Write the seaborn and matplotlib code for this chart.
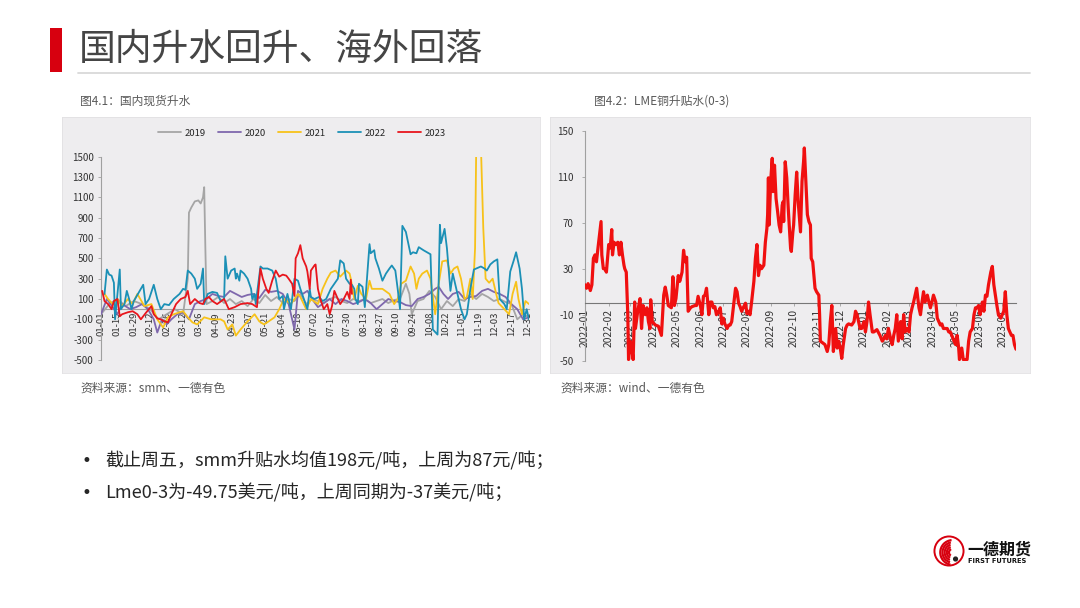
import numpy as np
import pandas as pd
import matplotlib
matplotlib.use("Agg")
import matplotlib.pyplot as plt
import matplotlib.dates as mdates
from matplotlib.patches import Rectangle, Circle, Arc
import seaborn as sns

sns.set_theme(style="white")
plt.rcParams["font.family"] = ["Noto Sans CJK SC", "DejaVu Sans"]
plt.rcParams["axes.unicode_minus"] = False

# ---------------- data ----------------
title = "国内升水回升、海外回落"
cap_left = "图4.1：国内现货升水"
cap_right = "图4.2：LME铜升贴水(0-3)"
src_left = "资料来源：smm、一德有色"
src_right = "资料来源：wind、一德有色"
bullets = ["截止周五，smm升贴水均值198元/吨，上周为87元/吨；",
           "Lme0-3为-49.75美元/吨，上周同期为-37美元/吨；"]

years = ["2019", "2020", "2021", "2022", "2023"]
year_colors = ["#a5a5a5", "#7f68ad", "#f7c21a", "#1b90b6", "#e8161d"]

# (day of year, premium 元/吨)
s2019 = [(0,-50),(7,50),(14,100),(21,30),(28,80),(35,50),(42,0),(49,-100),(56,-50),(63,0),(70,-50),
         (74,300),(75,950),(77,1000),(80,1060),(83,1070),(85,1040),(87,1100),(88,1200),(89,600),(90,50),
         (95,80),(100,120),(105,60),(110,100),(115,50),(120,80),(125,30),(130,100),(135,60),(140,140),
         (145,80),(150,120),(155,60),(160,100),(165,80),(170,150),(175,50),(180,100),(185,80),(190,60),
         (195,100),(200,120),(205,80),(210,60),(215,100),(220,80),(225,100),(230,60),(235,80),(240,100),
         (245,60),(250,90),(255,100),(260,250),(263,150),(265,-50),(270,80),(275,100),(280,180),(285,120),
         (290,0),(295,80),(300,30),(305,100),(310,80),(315,150),(320,100),(325,150),(330,120),(335,80),
         (340,100),(345,70),(350,50),(355,-100),(360,-50),(365,-80)]
s2020 = [(0,-50),(5,100),(10,20),(14,-50),(18,50),(25,0),(30,20),(35,50),(40,0),(45,-100),(48,-230),
         (52,-100),(56,-150),(60,-100),(65,-50),(70,-30),(75,-100),(80,50),(85,80),(90,100),(95,150),
         (100,130),(105,120),(110,180),(115,150),(120,120),(125,140),(130,150),(135,110),(140,190),
         (145,170),(150,180),(155,150),(160,50),(163,-100),(165,-200),(168,180),(172,150),(176,180),
         (180,100),(185,20),(190,60),(195,100),(200,50),(205,100),(210,80),(215,50),(220,70),(225,100),
         (230,60),(235,0),(240,50),(245,100),(250,80),(255,70),(260,40),(265,30),(270,100),(275,120),
         (280,150),(285,200),(288,220),(292,150),(296,100),(300,150),(305,170),(310,100),(315,120),
         (320,130),(325,180),(330,200),(335,170),(340,150),(345,120),(350,50),(355,0),(360,-100),(365,-80)]
s2021 = [(3,150),(6,100),(10,50),(14,100),(18,30),(23,100),(27,50),(31,150),(37,30),(43,50),(48,-100),
         (53,-180),(57,-80),(62,-50),(70,-20),(74,-80),(78,-130),(82,-150),(88,-80),(94,-100),(99,-100),
         (102,-100),(105,-120),(108,-200),(112,-150),(115,-260),(119,-200),(125,-120),(131,-50),(135,-120),
         (139,-150),(143,-120),(148,-80),(152,0),(156,100),(162,50),(168,150),(170,120),(175,0),(179,100),
         (185,50),(189,200),(193,300),(196,360),(200,380),(204,320),(209,380),(212,350),(213,300),(216,100),
         (219,230),(222,150),(226,100),(229,280),(231,200),(236,200),(240,200),(246,150),(250,50),(253,100),
         (256,250),(260,280),(264,420),(267,350),(269,200),(271,300),(274,350),(278,380),(281,300),(285,-50),
         (288,250),(291,470),(295,480),(298,350),(301,400),(304,420),(307,300),(310,100),(312,120),(315,300),
         (317,100),(319,600),(320,1600),(324,1600),(326,800),(328,300),(331,260),(334,300),(337,150),
         (339,60),(344,0),(348,-50),(351,150),(354,270),(356,100),(359,-50),(362,80),(365,50)]
s2022 = [(3,150),(5,390),(7,340),(9,330),(11,260),(12,-100),(16,390),(17,0),(20,50),(22,180),(24,100),
         (26,0),(28,80),(33,180),(36,240),(38,50),(41,100),(45,240),(48,100),(51,0),(54,50),(58,40),
         (62,100),(67,150),(70,200),(72,190),(74,380),(77,350),(80,300),(82,200),(85,250),(87,400),(88,50),
         (91,150),(95,170),(99,160),(102,80),(105,100),(106,520),(108,300),(111,380),(114,400),(115,300),
         (116,350),(118,280),(119,380),(122,350),(125,300),(128,200),(129,100),(131,150),(132,50),(133,150),
         (136,420),(138,400),(142,400),(146,380),(149,300),(152,100),(155,130),(156,0),(159,150),(162,0),
         (165,300),(168,280),(170,200),(173,100),(176,0),(178,200),(179,120),(182,100),(186,120),(189,80),
         (192,100),(196,200),(199,250),(202,300),(204,480),(207,450),(209,300),(212,250),(214,240),(216,200),
         (217,100),(219,50),(220,250),(223,220),(225,20),(229,640),(230,550),(233,580),(234,500),(237,400),
         (240,280),(243,350),(246,400),(248,430),(251,380),(253,200),(255,0),(257,820),(260,760),(264,540),
         (266,560),(269,550),(271,610),(275,580),(278,560),(281,540),(283,-200),(287,-250),(289,830),
         (290,650),(293,790),(295,600),(298,180),(300,350),(301,300),(304,150),(307,0),(310,-100),(312,-50),
         (315,200),(318,390),(324,420),(327,400),(329,380),(332,440),(335,470),(338,490),(340,100),(344,50),
         (346,0),(349,370),(352,480),(354,560),(357,400),(359,200),(361,-100),(363,0),(365,-100)]
s2023 = [(1,180),(3,80),(6,50),(9,0),(11,80),(14,100),(16,-70),(18,-50),(23,-30),(27,-20),(31,-50),
         (34,-100),(38,-40),(43,30),(45,-50),(48,-90),(51,-100),(54,-120),(57,-130),(60,-50),(64,50),
         (68,100),(72,120),(74,180),(76,50),(80,100),(84,60),(87,50),(89,100),(92,120),(95,80),(99,50),
         (105,100),(109,0),(114,20),(119,50),(125,60),(129,50),(133,20),(136,400),(138,300),(141,200),
         (143,160),(146,280),(149,380),(152,320),(155,340),(158,330),(160,300),(163,250),(165,130),
         (166,500),(168,550),(170,630),(172,500),(175,420),(176,370),(178,200),(179,380),(182,430),
         (183,440),(185,200),(187,100),(190,0),(193,50),(195,-50),(197,30),(199,180),(202,100),(204,50),
         (207,100),(210,170),(212,100),(213,290),(214,150)]
year_series = [s2019, s2020, s2021, s2022, s2023]

left_ticks = [0, 14, 28, 42, 56, 70, 84, 98, 112, 126, 140, 154, 168, 182, 196, 210, 224, 238,
              252, 266, 280, 294, 308, 322, 336, 350, 364]
left_tick_labels = ["01-01", "01-15", "01-29", "02-12", "02-26", "03-12", "03-26", "04-09", "04-23",
                    "05-07", "05-21", "06-04", "06-18", "07-02", "07-16", "07-30", "08-13", "08-27",
                    "09-10", "09-24", "10-08", "10-22", "11-05", "11-19", "12-03", "12-17", "12-31"]

# LME 0-3 spread: (days since 2022-01-01, USD/t)
lme_start = "2022-01-01"
lme = [(0,16),(2,13),(4,17),(7,11),(9,16),(11,39),(13,42),(15,36),(17,48),(21,71),(22,42),(24,30),
       (26,30),(28,27),(31,51),(33,48),(35,64),(36,42),(38,53),(40,51),(43,53),(45,42),(47,53),(49,42),
       (51,33),(52,30),(54,27),(56,-10),(57,-49),(59,-33),(61,-39),(63,-49),(65,1),(66,-22),(69,-7),
       (72,4),(74,-22),(76,-2),(79,-10),(81,-4),(83,-16),(85,-22),(86,3),(88,-16),(92,-19),(96,-20),
       (100,-28),(103,7),(105,14),(107,7),(109,-2),(113,-4),(115,23),(117,-2),(119,4),(122,24),(124,19),
       (127,27),(129,46),(131,36),(133,40),(135,-7),(138,-4),(140,-3),(144,-2),(146,-2),(148,6),(151,-2),
       (153,-10),(155,6),(157,7),(159,13),(162,-10),(164,1),(166,1),(168,-4),(170,-3),(172,-10),(175,-7),
       (177,-4),(179,-18),(181,-13),(183,-18),(186,-22),(188,-19),(190,-19),(192,-16),(197,13),(199,10),
       (201,0),(203,-3),(205,-7),(207,-4),(210,0),(212,-9),(214,-7),(216,-10),(218,1),(221,19),(223,39),
       (225,51),(227,24),(229,33),(231,30),(234,33),(236,53),(238,65),(239,77),(240,109),(241,68),
       (243,106),(245,126),(246,97),(248,120),(250,91),(252,80),(254,68),(256,62),(258,85),(259,88),
       (260,71),(262,123),(264,109),(266,82),(269,48),(270,45),(272,62),(273,68),(275,94),(277,114),
       (279,88),(282,62),(284,106),(286,123),(287,135),(289,106),(291,77),(293,71),(295,68),(296,39),
       (298,36),(301,13),(303,10),(306,7),(307,-10),(308,-33),(312,-35),(314,-36),(317,-42),(319,-36),
       (321,-16),(323,-2),(325,-42),(328,-22),(330,-39),(332,-33),(334,-39),(336,-48),(338,-36),(341,-22),
       (343,-19),(345,-18),(349,-19),(352,-16),(354,-7),(356,-10),(358,-16),(360,-22),(362,-22),(365,-16),
       (367,-25),(369,-16),(371,1),(373,-10),(376,-25),(378,-25),(382,-23),(386,-28),(389,-33),(391,-31),
       (393,-28),(395,-31),(397,-22),(400,-31),(402,-36),(404,-28),(406,-22),(408,-10),(410,-33),
       (413,-16),(415,-31),(417,-10),(419,-25),(421,-22),(424,-25),(426,-10),(428,-4),(430,1),(432,7),
       (434,13),(437,-4),(439,-10),(441,1),(443,10),(445,1),(448,7),(450,1),(452,-4),(454,1),(456,7),
       (459,1),(461,-13),(463,-16),(465,-19),(467,-18),(469,-22),(472,-22),(474,-22),(476,-25),(478,-25),
       (480,-28),(483,-33),(485,-36),(487,-28),(489,-39),(490,-49),(493,-39),(495,-49),(497,-49),
       (500,-49),(502,-33),(504,-25),(507,-22),(509,-10),(511,-4),(513,-4),(515,-2),(517,-10),(520,1),
       (522,-7),(524,7),(526,6),(528,16),(531,27),(533,32),(535,16),(537,7),(539,-2),(541,-10),(544,-13),
       (546,-10),(548,-7),(550,10),(552,-10),(554,-22),(556,-25),(558,-28),(560,-28),(562,-36),(564,-40)]
lme_end = "2023-07-19"

# ---------------- figure ----------------
W, H = 1080, 608
fig = plt.figure(figsize=(W / 100, H / 100), dpi=100, facecolor="white")

def fx(x):
    return x / W

def fy(y):
    return 1 - y / H

# header
fig.patches.append(Rectangle((fx(50), fy(72)), fx(12), 44 / H, transform=fig.transFigure,
                             facecolor="#d7000f", edgecolor="none"))
fig.text(fx(79), fy(49), title, fontsize=26.5, fontweight="light", color="#454545",
         va="center", ha="left")
fig.add_artist(plt.Line2D([fx(78), fx(1030)], [fy(73), fy(73)], transform=fig.transFigure,
                          color="#d9d9d9", lw=1.3))

# panel backgrounds (behind the chart axes)
for x0, x1 in [(62, 540), (550, 1030)]:
    bg = fig.add_axes([fx(x0), fy(373), fx(x1 - x0), 256 / H], zorder=-10)
    bg.set_facecolor("#eeedef")
    bg.set_xticks([])
    bg.set_yticks([])
    for sp in bg.spines.values():
        sp.set_color("#e2e1e3")
        sp.set_linewidth(0.6)

txt_kw = dict(fontsize=8.5, color="#595959", va="center", ha="left")
fig.text(fx(80), fy(101), cap_left, **txt_kw)
fig.text(fx(594), fy(101), cap_right, **txt_kw)
fig.text(fx(80), fy(388), src_left, **txt_kw)
fig.text(fx(560), fy(388), src_right, **txt_kw)

axis_col = "#a0a0a0"
tick_col = "#333333"

# ---------------- left chart ----------------
rows = []
for yr, ser in zip(years, year_series):
    for d, v in ser:
        rows.append({"day": d, "value": v, "year": yr})
df_left = pd.DataFrame(rows)

ax1 = fig.add_axes([fx(101), fy(360), fx(428), (360 - 156.7) / H], zorder=5)
ax1.set_facecolor("none")
sns.lineplot(data=df_left, x="day", y="value", hue="year", hue_order=years,
             palette=dict(zip(years, year_colors)), estimator=None, sort=True,
             lw=1.3, ax=ax1, zorder=3)
ax1.set_xlim(0, 365)
ax1.set_ylim(-500, 1500)
ax1.set_yticks(np.arange(-500, 1501, 200))
ax1.set_xticks(left_ticks)
ax1.set_xticklabels(left_tick_labels)
ax1.set_xlabel("")
ax1.set_ylabel("")
for s in ["top", "right"]:
    ax1.spines[s].set_visible(False)
ax1.spines["left"].set_color(axis_col)
ax1.spines["left"].set_linewidth(0.8)
ax1.spines["bottom"].set_position(("data", 0))
ax1.spines["bottom"].set_color(axis_col)
ax1.spines["bottom"].set_linewidth(0.8)
ax1.tick_params(axis="x", length=0, pad=2, labelsize=6.8, labelrotation=90, colors=tick_col)
ax1.tick_params(axis="y", length=2.2, width=0.6, pad=3, labelsize=7, colors=tick_col, left=True)
ax1.tick_params(axis="y", color=axis_col)
sns.move_legend(ax1, loc="center", bbox_to_anchor=(fx(302), fy(133)),
                bbox_transform=fig.transFigure, ncol=5, frameon=False, title=None,
                fontsize=6.8, handlelength=2.4, columnspacing=1.3, handletextpad=0.4)

# ---------------- right chart ----------------
start = pd.Timestamp(lme_start)
df_right = pd.DataFrame({"date": [start + pd.Timedelta(days=d) for d, _ in lme],
                         "value": [v for _, v in lme]})
ax2 = fig.add_axes([fx(585), fy(360.7), fx(431), (360.7 - 130.7) / H], zorder=5)
ax2.set_facecolor("none")
sns.lineplot(data=df_right, x="date", y="value", color="#f01010", lw=2.3, ax=ax2, zorder=3)
ax2.set_xlim(start, pd.Timestamp(lme_end))
ax2.set_ylim(-50, 150)
ax2.set_yticks(np.arange(-50, 151, 40))
ax2.xaxis.set_major_locator(mdates.MonthLocator())
ax2.xaxis.set_major_formatter(mdates.DateFormatter("%Y-%m"))
ax2.set_xlabel("")
ax2.set_ylabel("")
for s in ["top", "right"]:
    ax2.spines[s].set_visible(False)
ax2.spines["left"].set_color(axis_col)
ax2.spines["left"].set_linewidth(0.8)
ax2.spines["bottom"].set_position(("data", 0))
ax2.spines["bottom"].set_color("#777777")
ax2.spines["bottom"].set_linewidth(0.8)
ax2.tick_params(axis="x", length=2, width=0.6, pad=2, labelsize=7.4,
                labelrotation=90, colors=tick_col, bottom=True)
ax2.tick_params(axis="x", color=axis_col)
ax2.tick_params(axis="y", length=2.2, width=0.6, pad=6, labelsize=7, colors=tick_col, left=True)
ax2.tick_params(axis="y", color=axis_col)

# ---------------- bullets ----------------
for i, b in enumerate(bullets):
    yy = 461 + 32 * i
    fig.text(fx(81), fy(yy), "•", fontsize=12, color="#262626", va="center", ha="left",
             family=["DejaVu Sans"])
    fig.text(fx(105), fy(yy), b, fontsize=13, color="#262626", va="center", ha="left")

# ---------------- logo ----------------
lax = fig.add_axes([fx(933), fy(567), fx(32), 32 / H])
lax.set_xlim(-1.1, 1.1)
lax.set_ylim(-1.1, 1.1)
lax.set_aspect("equal")
lax.axis("off")
lax.add_patch(Circle((0, 0), 1.0, facecolor="none", edgecolor="#d7000f", lw=1.4))
for r, t1, t2 in [(0.85, 95, 260), (0.7, 100, 255), (0.55, 105, 250), (0.4, 110, 245), (0.25, 115, 240)]:
    lax.add_patch(Arc((0.25, -0.1), 2 * r, 2 * r, theta1=t1, theta2=t2, color="#d7000f", lw=1.6))
lax.add_patch(Circle((0.45, -0.55), 0.13, color="#222222"))
fig.text(fx(967), fy(550), "一德期货", fontsize=11.5, fontweight="bold", color="#111111",
         va="center", ha="left")
fig.text(fx(968), fy(561), "FIRST FUTURES", fontsize=4.8, fontweight="bold", color="#111111",
         va="center", ha="left", family=["DejaVu Sans"])

fig.savefig("out.png", dpi=100, facecolor="white")
